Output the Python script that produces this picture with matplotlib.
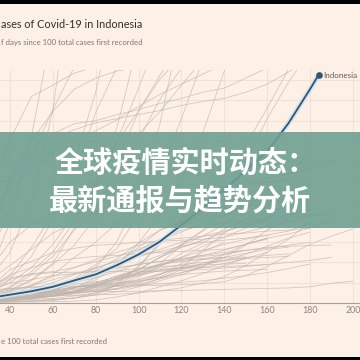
import matplotlib
matplotlib.use("Agg")
import matplotlib.pyplot as plt
from matplotlib.patches import Rectangle

# ---------------- data (cases in thousands) ----------------
indonesia_days = [0, 10, 20, 30, 40, 50, 60, 70, 80, 90, 100, 110, 120, 130, 140, 150, 160, 170, 180, 184]
indonesia_cases = [0.12, 0.79, 2.09, 4.84, 8.21, 11.59, 16.0, 22.27, 28.23, 37.42, 47.9, 60.7,
                   76.98, 93.66, 111.46, 130.72, 149.41, 177.57, 210.94, 225.03]

# other countries, sampled every 10 days since 100 cases
step_days = 10
fast_countries = [
    [0.1, 1.0, 6.3, 27, 80, 165, 272],                       # Russia
    [0.1, 2.2, 9, 23, 50, 101, 190, 347],                    # Brazil
    [0.1, 0.6, 3.1, 11, 24, 46, 82, 139, 208, 309],          # India
    [0.1, 0.6, 2.6, 12.5, 27, 55, 88, 124, 188, 233, 268],   # Peru
    [0.1, 1.3, 4.5, 8.3, 13, 23, 39, 74, 118, 174, 259],     # Chile
    [0.1, 0.6, 3.2, 7.5, 16, 31, 50, 81, 113, 160, 212, 268],  # Mexico
    [0.1, 0.9, 1.5, 2.4, 4.4, 7.2, 12, 22, 35, 61, 106, 177, 276],  # South Africa
    [0.1, 0.5, 2.1, 3.4, 5.6, 9.5, 15, 24, 38, 54, 88, 128, 182, 240],  # Colombia
    [0.1, 3.0, 28.6, 102, 161, 204, 215, 227, 233],          # Spain
    [0.1, 3.1, 21, 69, 120, 160, 189, 211, 222, 229, 233],   # Italy
    [0.1, 1.4, 9.5, 42, 94, 144, 191, 233],                  # UK
    [0.1, 5.8, 16, 32, 60, 77, 90, 101, 118, 139, 167, 189, 215, 240],  # Iran
    [0.1, 0.77, 2.2, 5.4, 15, 28, 46, 72, 89, 120, 161, 201, 232],  # Saudi Arabia
    [0.1, 1.1, 3.3, 6.5, 12, 22, 38, 57, 85, 140, 189, 225, 255],   # Pakistan
    [0.1, 1.2, 5.4, 10.9, 20, 35, 58, 87, 122, 159, 190, 221, 244],  # Bangladesh
]
slow_top_countries = [
    [0.1, 2.3, 14, 52, 125, 152, 167, 177, 180, 186, 191, 197, 202, 208, 212, 222, 232],  # France
    [0.1, 1.9, 22, 72, 118, 146, 163, 171, 178, 182, 186, 190, 195, 199, 202, 208, 216, 228, 240],  # Germany
    [0.1, 7.4, 38, 82, 112, 133, 149, 159, 170, 181, 194, 206, 216, 226, 236],  # Turkey
    [0.1, 0.8, 1.8, 2.9, 4.4, 5.8, 8.8, 14.7, 23, 37, 59, 87, 122, 168, 229, 300],  # Argentina
    [0.1, 0.55, 3.0, 4.9, 6.7, 9.2, 11.4, 13.8, 18.6, 24.8, 30.7, 38.8, 57, 72, 98, 139, 182, 218, 249],  # Philippines
    [0.1, 0.35, 0.9, 1.4, 1.8, 2.4, 3.4, 4.8, 8.2, 18, 37, 58, 83, 104, 129, 156, 192, 231, 280],  # Iraq
    [0.1, 1.2, 6.1, 10.7, 13.9, 16, 16.5, 16.7, 17.1, 18.6, 21, 25.7, 35, 52, 69, 82, 98, 114, 137],  # Israel
]
mid_countries = [
    [0.1, 1.3, 8.5, 22, 37, 53, 69, 79, 90, 96, 101, 104, 107, 111, 115, 119, 123, 127, 132, 141],  # Canada
    [0.1, 1.6, 3.7, 8.0, 23, 29, 31, 35, 41, 46, 53, 62, 70, 79, 87, 97, 107, 113, 117],  # Ecuador
    [0.1, 0.3, 0.6, 1.2, 2.4, 4, 6.7, 11, 19, 27, 33, 45, 58, 71, 86, 98, 107, 115],  # Bolivia
    [0.1, 1.3, 2.6, 4.3, 6.1, 9.4, 12.3, 15.7, 18, 22, 28, 36, 49, 59, 73, 82, 90, 95, 100],  # Dominican Rep.
    [0.1, 0.9, 2.2, 3.6, 5.8, 7.7, 9.3, 11, 14, 18, 26, 36, 45, 56, 65, 74, 84, 92, 98],  # Panama
    [0.1, 0.4, 0.8, 1.8, 3.3, 5.5, 9.4, 15, 25, 39, 55, 72, 80, 88, 94, 96, 97, 99, 101],  # Egypt
    [0.1, 0.5, 1.1, 3.4, 7.8, 17, 28, 45, 60, 79, 92, 100, 106, 111, 114, 117, 119, 121, 122],  # Qatar
    [0.1, 0.2, 0.5, 1.4, 2.6, 5.8, 11, 22, 31, 38, 46, 53, 60, 66, 71, 76, 82, 87, 92],  # Kuwait
    [0.1, 0.4, 1.5, 4.5, 9.3, 14, 20, 28, 35, 41, 46, 51, 56, 60, 62, 64, 67, 71, 79],  # UAE
    [0.1, 1.2, 4.9, 14, 33, 41, 50, 54, 57, 58, 60, 61, 62, 63, 65, 70, 75, 80, 86, 90],  # Belgium
    [0.1, 1.4, 5.6, 15, 28, 35, 41, 44, 46, 47, 49, 50, 51, 52, 53, 58, 64, 68, 74, 81],  # Netherlands
    [0.1, 1.0, 2.0, 5.6, 12, 17, 23, 29, 34, 42, 52, 63, 72, 76, 79, 82, 84, 85, 86, 88],  # Sweden
    [0.1, 0.4, 1.9, 4.4, 8, 10.4, 13, 15.5, 17.5, 19.5, 22, 25, 30, 36, 45, 57, 72, 84, 97],  # Romania
    [0.1, 0.8, 2.5, 5.4, 9, 13, 16.5, 20, 25, 31, 39, 47, 57, 66, 78, 92, 110, 125, 150],  # Ukraine
    [0.1, 0.5, 0.9, 1.8, 3, 4.5, 7, 10.5, 15, 20, 35, 60, 80, 97, 102, 104, 105, 106],  # Kazakhstan
    [0.1, 0.4, 1.0, 2.3, 3.5, 6.5, 12, 21, 32, 44, 59, 72, 80, 84, 87, 90],  # Oman
    [0.1, 0.7, 1.6, 3, 4.1, 5.5, 6.9, 7.6, 8, 8.6, 10, 12, 15, 20, 26, 37, 50, 63, 80],  # Morocco
]
low_countries = [
    [0.1, 1.4, 8, 17, 25, 28, 30, 30.4, 30.7, 30.9, 31, 31.3, 32, 33, 34.5, 36, 38, 40, 42, 45],  # Switzerland
    [0.1, 1.6, 7.4, 13, 19.7, 23, 27, 29, 31.6, 34, 38, 41, 44, 47, 50, 52, 54, 57, 60],  # Portugal
    [0.1, 0.7, 2.3, 5.6, 9.9, 13, 16, 18.5, 21, 23, 27, 32, 35, 38, 42, 48, 56, 64, 70],  # Poland
    [0.1, 0.4, 1.5, 4.8, 11, 18, 26, 35, 43, 50, 57, 62, 64, 66, 68, 69, 71, 72, 74],  # Belarus
    [0.1, 0.3, 0.7, 1.7, 3.5, 4.8, 6.4, 8.9, 12, 17, 23, 29, 34, 39, 45, 49, 53, 55],  # Nigeria
    [0.1, 0.2, 0.6, 1.0, 2.5, 6, 11, 13.5, 15.6, 16.4, 17, 17.4, 18, 19, 21, 27, 36, 47, 58, 66, 73],  # Japan
    [0.1, 5.8, 7.8, 9.1, 9.8, 10.5, 10.7, 10.8, 11.1, 11.3, 11.6, 12, 12.4, 12.9, 13.5, 14, 14.4, 14.9, 16, 19.5, 21.5],  # S. Korea
    [0.1, 0.2, 0.5, 1.0, 2, 6.5, 17, 23, 29, 35, 38, 41, 43, 46, 48, 52, 55, 56, 56.7, 57.3],  # Singapore
    [0.1, 0.3, 0.6, 1.3, 2.9, 5, 8.5, 12, 17, 24, 33, 45, 55, 62, 70, 78, 83],  # Guatemala
    [0.1, 0.3, 0.7, 1.3, 2.6, 4.8, 7.6, 11, 16, 22, 30, 37, 45, 52, 58, 63, 67],  # Honduras
    [0.1, 0.2, 0.4, 0.9, 2.5, 5.2, 7, 9.5, 16, 25, 33, 45, 55, 62],  # Ethiopia
    [0.1, 0.3, 0.6, 1.2, 2.4, 4.3, 7.2, 11, 17, 24, 29, 33, 35, 36],  # Kenya
    [0.1, 1.2, 2.4, 3.6, 5, 6.6, 8.8, 10, 11.5, 13.5, 17, 24, 33, 38, 42, 45, 47, 48.5],  # Algeria
    [0.1, 0.5, 1.2, 2.7, 5, 8, 11, 15, 20, 26, 33, 38, 41, 43, 44.5, 45.5],  # Ghana
    [0.1, 0.3, 0.6, 1.5, 4.4, 8, 12, 16, 18, 20, 23, 28, 39, 50, 60],  # Nepal
    [0.1, 0.2, 0.3, 0.5, 1.0, 1.8, 3.4, 5, 8, 11, 16, 22, 28, 36, 48, 58, 64],  # Venezuela
    [0.1, 0.3, 0.6, 0.8, 0.9, 1.0, 1.3, 1.9, 3, 6, 10, 16, 22, 29, 37, 44, 50],  # Costa Rica
    [0.1, 0.5, 1.1, 1.7, 2.6, 4, 7, 11, 18, 24, 30, 34, 38, 40, 42, 44, 45, 46],  # Armenia
    [0.1, 0.3, 0.6, 0.9, 1.3, 1.7, 2.5, 5, 10, 18, 30, 38, 42, 44, 45],  # Kyrgyzstan
    [0.1, 0.5, 1.6, 2.2, 2.7, 3.5, 4.5, 7, 10, 14, 20, 28, 36, 43, 48, 52],  # Uzbekistan
    [0.1, 0.6, 1.3, 1.8, 2.7, 4.2, 7.2, 12, 18, 24, 28, 32, 34, 35, 36, 37, 38],  # Azerbaijan
    [0.1, 1.1, 3.4, 6.3, 8.8, 10.2, 11, 11.3, 12.4, 14.5, 18.6, 24, 28, 30, 31.5, 32.4, 33],  # Serbia
    [0.1, 1.6, 7.7, 12.6, 14.5, 15.2, 15.6, 16, 16.7, 17.3, 18, 19, 20.5, 22, 24.5, 27, 30, 34, 38.5],  # Austria
    [0.1, 0.4, 1.6, 3, 4.2, 5.5, 7.6, 10, 13, 17, 21, 25, 30, 35, 39, 44],  # Moldova
    [0.1, 0.4, 0.8, 1.7, 3.2, 7, 13, 22, 28, 32, 34, 36, 37, 37.7, 38.5, 39],  # Afghanistan
    [0.1, 0.3, 0.8, 1.8, 3.3, 6, 10, 15, 20, 26, 33, 38, 43, 47, 52, 58, 63],  # Bahrain
]

x_ticks = [40, 60, 80, 100, 120, 140, 160, 180, 200]
y_grid = [0, 20, 40, 60, 80, 100, 120, 140, 160, 180, 200, 220]

# texts as visible in the (cropped) screenshot
title_text = "ases of Covid-19 in Indonesia"
subtitle_text = "f days since 100 total cases first recorded"
xlabel_text = "e 100 total cases first recorded"
banner_line1 = "全球疫情实时动态："
banner_line2 = "最新通报与趋势分析"
highlight_name = "Indonesia"

# ---------------- figure ----------------
W = H = 360
BG = "#fdf0e7"
fig = plt.figure(figsize=(3.6, 3.6), dpi=100, facecolor=BG)

ax_bottom_px, ax_top_px = 303, 70
ax = fig.add_axes([0, (H - ax_bottom_px) / H, 1, (ax_bottom_px - ax_top_px) / H])
ax.set_facecolor(BG)
ax.set_xlim(35.33, 203.36)
ax.set_ylim(0, 230)

grey = "#c0b6ae"
for group in (fast_countries, slow_top_countries, mid_countries, low_countries):
    for vals in group:
        days = [i * step_days for i in range(len(vals))]
        ax.plot(days, vals, color=grey, lw=0.55, alpha=0.75, zorder=2,
                solid_capstyle="round")

ax.plot(indonesia_days, indonesia_cases, color="#d3e3ee", lw=3.6, zorder=3,
        solid_capstyle="round")
ax.plot(indonesia_days, indonesia_cases, color="#2f5677", lw=1.3, zorder=4,
        solid_capstyle="round")
ax.plot(indonesia_days[-1:], indonesia_cases[-1:], "o", color="#2f5677", ms=3.8, zorder=5)
ax.annotate(highlight_name, (indonesia_days[-1], indonesia_cases[-1]),
            xytext=(3.5, 0), textcoords="offset points", va="center", ha="left",
            fontsize=5.8, color="#5f5955", family="Lato", zorder=6)

ax.set_xticks(x_ticks)
ax.set_xticklabels([str(t) for t in x_ticks])
ax.set_yticks(y_grid)
ax.set_yticklabels([])
ax.tick_params(axis="x", length=0, labelsize=6.4, colors="#8c847e", pad=2.5)
ax.tick_params(axis="y", length=0)
for lab in ax.get_xticklabels():
    lab.set_family("Lato")
ax.grid(True, color="#f2e1d6", lw=0.8, zorder=0)
ax.set_axisbelow(True)
for s in ("top", "right", "left"):
    ax.spines[s].set_visible(False)
ax.spines["bottom"].set_color("#a89f98")
ax.spines["bottom"].set_linewidth(0.8)

fig.text(1 / W, 1 - 25 / H, title_text, ha="left", va="center",
         fontsize=7.8, color="#33302e", family="Lato")
fig.text(1 / W, 1 - 43 / H, subtitle_text, ha="left", va="center",
         fontsize=5.6, color="#7f7873", family="Lato")
fig.text(1 / W, 1 - 341 / H, xlabel_text, ha="left", va="center",
         fontsize=5.6, color="#7f7873", family="Lato")

# banner
fig.add_artist(Rectangle((0, 1 - 228 / H), 1, 96 / H, transform=fig.transFigure,
                         facecolor="#6e9f91", edgecolor="none", alpha=0.9, zorder=10))
cjk = ["Noto Sans CJK SC", "DejaVu Sans"]
fig.text(55 / W, 1 - 163 / H, banner_line1, ha="left", va="center", fontsize=21,
         color="white", family=cjk, weight="heavy", zorder=11)
fig.text(180 / W, 1 - 201 / H, banner_line2, ha="center", va="center", fontsize=21,
         color="white", family=cjk, weight="heavy", zorder=11)

# screenshot black edges
fig.add_artist(Rectangle((0, 1 - 4 / H), 1, 4 / H, transform=fig.transFigure,
                         facecolor="black", edgecolor="none", zorder=12))
fig.add_artist(Rectangle((0, 0), 1, 3 / H, transform=fig.transFigure,
                         facecolor="black", edgecolor="none", zorder=12))

fig.savefig("out.png", dpi=100, facecolor=BG)
